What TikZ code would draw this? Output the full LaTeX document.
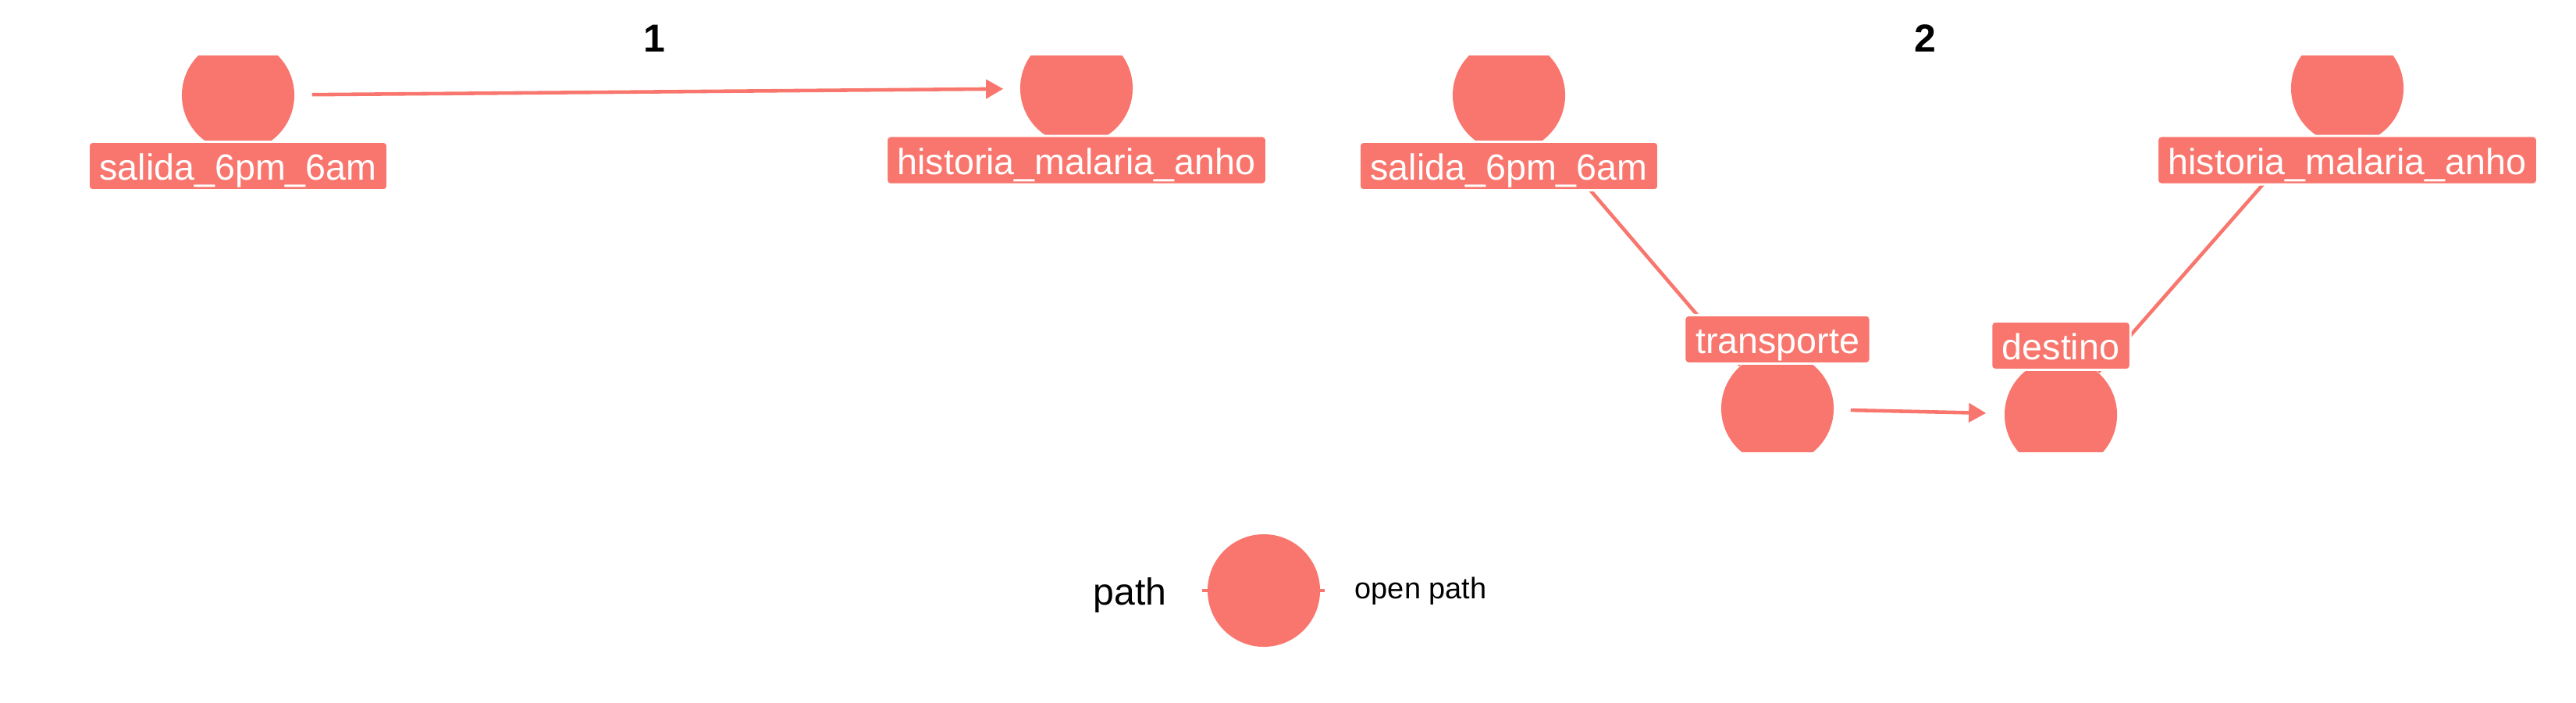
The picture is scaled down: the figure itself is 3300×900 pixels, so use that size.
\documentclass[tikz,border=0pt]{standalone}
\usepackage{fontspec}
\setmainfont{Liberation Sans}
\usepackage{xcolor}
\usepackage{tikz}
\usetikzlibrary{arrows.meta}
\definecolor{dagred}{HTML}{F8766D}
\tikzset{
  main node/.style={circle,fill=dagred,minimum size=1.44cm,inner sep=0pt},
  name node/.style={rectangle,rounded corners=0.05cm,fill=dagred,draw=white,line width=0.8pt,
    text=white,font=\fontsize{13.26}{15}\selectfont,inner xsep=0.14cm,inner ysep=0.047cm,
    text height=0.443cm,text depth=0.084cm},
  edge line/.style={draw=dagred,line width=1.3pt},
  facet title/.style={font=\fontsize{14.2}{16}\selectfont\bfseries,inner sep=0pt}
}
\begin{document}
\begin{tikzpicture}[x=0.01cm,y=-0.01cm,>={Triangle[length=6.3pt,width=6.8pt]}]
  \useasboundingbox (0,0) rectangle (3300,900);
  \node [facet title] (f1) at (838,49) {1};
  \node [facet title] (f2) at (2466,49) {2};
  % nodes, cut by the panel
  \begin{scope}
    \clip (0,71) rectangle (3300,578);
    \node [main node] (s1) at (305,122) {};
    \node [main node] (h1) at (1379,113) {};
    \node [main node] (s2) at (1933,122) {};
    \node [main node] (h2) at (3007,113) {};
    \node [main node] (t2) at (2277,523) {};
    \node [main node] (d2) at (2640,531) {};
  \end{scope}
  % edges
  \draw [edge line,->,shorten <=0.22cm,shorten >=0.21cm] (s1) -- (h1);
  \draw [edge line,shorten <=0.12cm] (s2) -- (t2);
  \draw [edge line,shorten <=0.12cm] (h2) -- (d2);
  \draw [edge line,->,shorten <=0.21cm,shorten >=0.23cm] (t2) -- (d2);
  % labels
  \node [name node] (s1l) at ([yshift=-0.905cm]s1) {salida\_6pm\_6am};
  \node [name node] (h1l) at ([yshift=-0.92cm]h1) {historia\_malaria\_anho};
  \node [name node] (s2l) at ([yshift=-0.905cm]s2) {salida\_6pm\_6am};
  \node [name node] (h2l) at ([yshift=-0.92cm]h2) {historia\_malaria\_anho};
  \node [name node] (t2l) at ([yshift=0.885cm]t2) {transporte};
  \node [name node] (d2l) at ([yshift=0.885cm]d2) {destino};
  % legend
  \node [anchor=base west,inner sep=0pt,font=\fontsize{13.7}{16}\selectfont] (legtitle) at (1400,774) {path};
  \coordinate (keyw) at (1540,756);
  \coordinate (keye) at (1697,756);
  \draw [edge line] (keyw) -- (keye);
  \node [main node] (key) at (1619,756) {};
  \node [anchor=base west,inner sep=0pt,font=\fontsize{10.8}{13}\selectfont] (legtext) at (1735,766) {open path};
\end{tikzpicture}
\end{document}
